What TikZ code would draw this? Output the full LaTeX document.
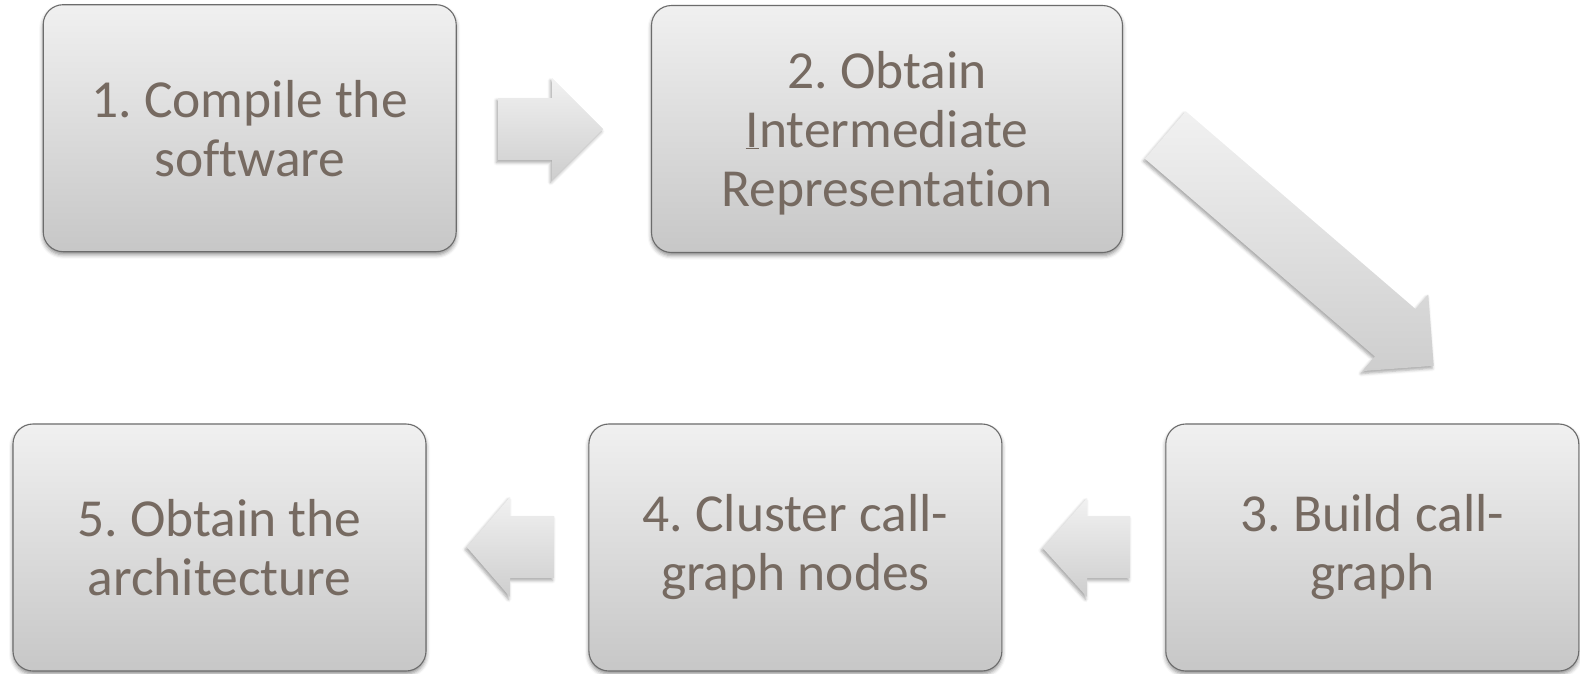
\documentclass[tikz,border=0pt]{standalone}
\usepackage{fontspec}
\setmainfont{Carlito}[Ligatures=NoCommon]
\usetikzlibrary{shadows.blur}
\frenchspacing
\definecolor{steptext}{RGB}{118,106,97}
\definecolor{stepedge}{RGB}{108,108,108}
\definecolor{boxtop}{RGB}{240,240,240}
\definecolor{boxbot}{RGB}{199,199,199}
\definecolor{arrtop}{RGB}{241,241,241}
\definecolor{arrbot}{RGB}{206,206,206}
\tikzset{
  steptextstyle/.style={align=center, text=steptext,
    font=\fontsize{53.5}{59}\selectfont},
  stepbox/.style={draw=stepedge, line width=1.1pt, rounded corners=20pt,
    top color=boxtop, bottom color=boxbot,
    minimum width=#1, minimum height=247pt, inner sep=0pt,
    steptextstyle,
    blur shadow={shadow xshift=0pt, shadow yshift=-3pt,
      shadow blur radius=4pt, shadow opacity=45}},
  blockarrow/.style={draw=none, top color=arrtop, bottom color=arrbot,
    blur shadow={shadow xshift=-1.5pt, shadow yshift=-2.5pt,
      shadow blur radius=3pt, shadow opacity=35}}
}
\begin{document}
\begin{tikzpicture}[x=1pt, y=-1pt]
  \useasboundingbox (0,0) rectangle (1580,673);

  % process steps
  \node[stepbox=413pt] (s1) at (249.7,128.2) {1. Compile the\\software};
  \node[stepbox=471pt,
    label={[steptextstyle, inner sep=0pt, yshift=-4pt]center:2. Obtain\\\underline{I}ntermediate\\Representation}]
    (s2) at (887,129) {};
  \node[stepbox=413pt] (s3) at (1372.3,547.5) {3. Build call-\\graph};
  \node[stepbox=413pt] (s4) at (795.4,547.5) {4. Cluster call-\\graph nodes};
  \node[stepbox=413pt] (s5) at (219.5,547.5) {5. Obtain the\\architecture};

  % block arrows between the steps
  \path[blockarrow] (498,98) -- (552,98) -- (552,78) -- (603,129)
    -- (552,180) -- (552,160) -- (498,160) -- cycle;
  \path[blockarrow] (1185.7,111.3) -- (1415.6,309.1) -- (1428.2,294.5)
    -- (1433.7,365.8) -- (1362.4,371.1) -- (1374.9,356.5) -- (1144.9,158.7) -- cycle;
  \path[blockarrow] (1130,516) -- (1087,516) -- (1087,498) -- (1042.7,548)
    -- (1087,597) -- (1087,578) -- (1130,578) -- cycle;
  \path[blockarrow] (554,516) -- (510,516) -- (510,497) -- (466.7,547)
    -- (510,597) -- (510,578) -- (554,578) -- cycle;
\end{tikzpicture}
\end{document}
